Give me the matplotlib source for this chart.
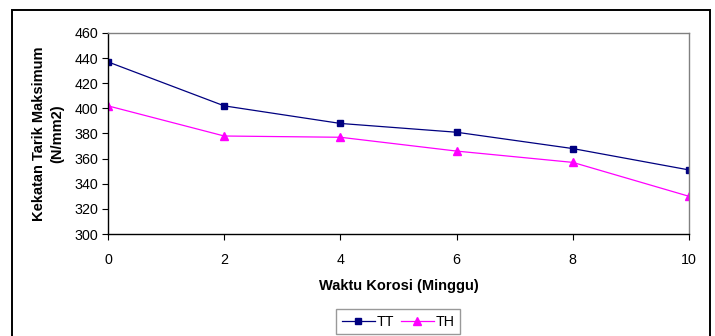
import matplotlib.pyplot as plt
from matplotlib.patches import Rectangle

plt.rcParams['font.family'] = ['Liberation Sans', 'DejaVu Sans']

minggu = [0, 2, 4, 6, 8, 10]
tt = [437, 402, 388, 381, 368, 351]
th = [402, 378, 377, 366, 357, 330]
y_ticks = list(range(300, 461, 20))

fig = plt.figure(figsize=(7.15, 3.36), dpi=100)

# sisa teks dokumen di atas grafik
fig.text(29 / 715, 1 + 4 / 336, 'dengan waktu perendaman', family='Liberation Serif',
         fontsize=13.5, va='baseline', ha='left')

# bingkai luar grafik
fig.patches.append(Rectangle((12 / 715, -0.05), 698 / 715, 1 - 10 / 336 + 0.05,
                             transform=fig.transFigure, fill=False,
                             edgecolor='black', linewidth=1.4))

ax = fig.add_axes([108 / 715, 1 - 234 / 336, 581 / 715, 201 / 336])
ax.plot(minggu, tt, color='#000080', marker='s', markersize=4.8,
        linewidth=0.9, label='TT')
ax.plot(minggu, th, color='#FF00FF', marker='^', markersize=5.5,
        linewidth=0.9, label='TH')

ax.set_xlim(0, 10)
ax.set_ylim(300, 460)
ax.set_xticks(minggu)
ax.set_yticks(y_ticks)
ax.tick_params(direction='out', length=4, width=0.8, labelsize=10.3, pad=3)
ax.tick_params(axis='x', pad=9.5)
ax.spines['top'].set_color('#808080')
ax.spines['right'].set_color('#808080')
for s in ax.spines.values():
    s.set_linewidth(1.0)

ax.set_xlabel('Waktu Korosi (Minggu)', fontsize=10.5, fontweight='bold', labelpad=9)
ax.set_ylabel('Kekatan Tarik Maksimum\n(N/mm2)', fontsize=10.5,
              fontweight='bold', labelpad=7, linespacing=1.45)

leg = fig.legend(loc='upper center', bbox_to_anchor=(398 / 715, 1 - 309 / 336),
                 ncol=2, fontsize=10.3, frameon=True, fancybox=False,
                 handlelength=2.3, handletextpad=0.1, columnspacing=0.5,
                 borderpad=0.4, borderaxespad=0)
leg.get_frame().set_edgecolor('#808080')
leg.get_frame().set_linewidth(1.0)

fig.savefig('out.png', dpi=100)
